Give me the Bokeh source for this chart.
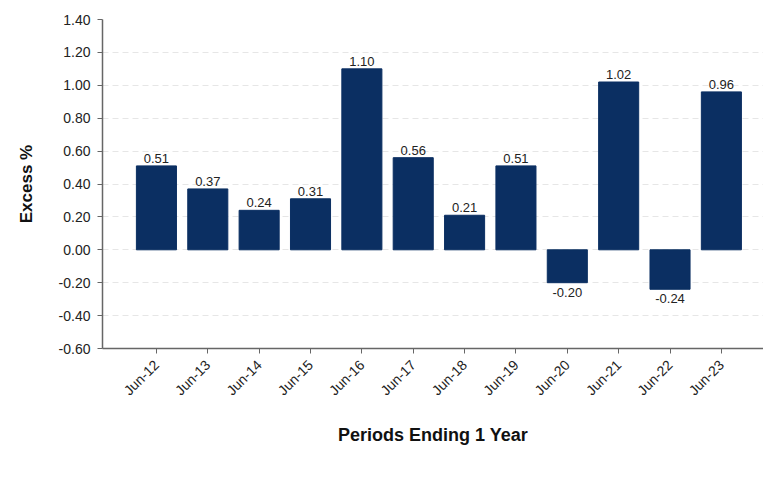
from bokeh.plotting import figure
from bokeh.models import (ColumnDataSource, Range1d, FixedTicker, Legend, LegendItem,
                          NumeralTickFormatter)
from bokeh.core.properties import value
from bokeh.embed import file_html
from bokeh.resources import INLINE

categories = ["Jun-12", "Jun-13", "Jun-14", "Jun-15", "Jun-16", "Jun-17",
              "Jun-18", "Jun-19", "Jun-20", "Jun-21", "Jun-22", "Jun-23"]
excess = [0.51, 0.37, 0.24, 0.31, 1.10, 0.56, 0.21, 0.51, -0.20, 1.02, -0.24, 0.96]
y_ticks = [-0.60, -0.40, -0.20, 0.00, 0.20, 0.40, 0.60, 0.80, 1.00, 1.20, 1.40]

FONT = "Liberation Sans"
BAR = "#0b2f62"

xs = list(range(len(categories)))
src = ColumnDataSource(dict(x=xs, top=excess))
pos = ColumnDataSource(dict(x=[x for x, v in zip(xs, excess) if v >= 0],
                            y=[v for v in excess if v >= 0],
                            t=["%.2f" % v for v in excess if v >= 0]))
neg = ColumnDataSource(dict(x=[x for x, v in zip(xs, excess) if v < 0],
                            y=[v for v in excess if v < 0],
                            t=["%.2f" % v for v in excess if v < 0]))

p = figure(width=763, height=484, frame_width=661, frame_height=329,
           output_backend="svg", toolbar_location=None,
           x_range=Range1d(-1.05, 11.82), y_range=Range1d(-0.6, 1.4),
           min_border_left=102, min_border_top=19, min_border_right=0,
           min_border_bottom=0, background_fill_color="white",
           border_fill_color="white", outline_line_color=None)

r = p.vbar(x="x", top="top", bottom=0, width=0.78, source=src,
           fill_color=BAR, line_color=BAR)

p.text(x="x", y="y", text="t", source=pos, text_align="center",
       text_baseline="bottom", y_offset=-3, text_font=value(FONT),
       text_font_size="13px", text_color="#222222")
p.text(x="x", y="y", text="t", source=neg, text_align="center",
       text_baseline="top", y_offset=5, text_font=value(FONT),
       text_font_size="13px", text_color="#222222")

# axes
p.xaxis.ticker = FixedTicker(ticks=xs)
p.xaxis.major_label_overrides = {i: c for i, c in enumerate(categories)}
p.xaxis.major_label_orientation = 0.785
p.xaxis.major_label_text_font = FONT
p.xaxis.major_label_text_font_size = "14px"
p.xaxis.major_label_text_color = "#222222"
p.xaxis.major_label_standoff = 9
p.xaxis.axis_label = "Periods Ending 1 Year"
p.xaxis.axis_label_text_font = FONT
p.xaxis.axis_label_text_font_style = "bold"
p.xaxis.axis_label_text_font_size = "18px"
p.xaxis.axis_label_text_color = "#111111"
p.xaxis.axis_label_standoff = 18
p.xaxis.minor_tick_line_color = None
p.xaxis.major_tick_in = 0
p.xaxis.major_tick_out = 5
p.xaxis.axis_line_color = "#666666"
p.xaxis.axis_line_width = 1.5
p.xaxis.major_tick_line_color = "#666666"

p.yaxis.ticker = FixedTicker(ticks=y_ticks)
p.yaxis.formatter = NumeralTickFormatter(format="0.00")
p.yaxis.major_label_text_font = FONT
p.yaxis.major_label_text_font_size = "14px"
p.yaxis.major_label_text_color = "#222222"
p.yaxis.major_label_standoff = 7
p.yaxis.axis_label = "Excess %"
p.yaxis.axis_label_text_font = FONT
p.yaxis.axis_label_text_font_style = "bold"
p.yaxis.axis_label_text_font_size = "17px"
p.yaxis.axis_label_text_color = "#111111"
p.yaxis.axis_label_standoff = 20
p.yaxis.minor_tick_line_color = None
p.yaxis.major_tick_in = 0
p.yaxis.major_tick_out = 5
p.yaxis.axis_line_color = "#666666"
p.yaxis.axis_line_width = 1.5
p.yaxis.major_tick_line_color = "#666666"

p.xgrid.grid_line_color = None
p.ygrid.grid_line_color = "#e6e6e6"
p.ygrid.grid_line_dash = "6 4"

legend = Legend(items=[LegendItem(label="Excess", renderers=[r])],
                orientation="horizontal", location=(246, 4),
                label_text_font=FONT, label_text_font_size="16px",
                label_text_color="#111111", glyph_width=15, glyph_height=15,
                border_line_color=None, background_fill_alpha=0,
                padding=0, margin=0, label_standoff=10, label_height=15)
p.add_layout(legend, "below")

open("out.html", "w").write(file_html(p, INLINE))
